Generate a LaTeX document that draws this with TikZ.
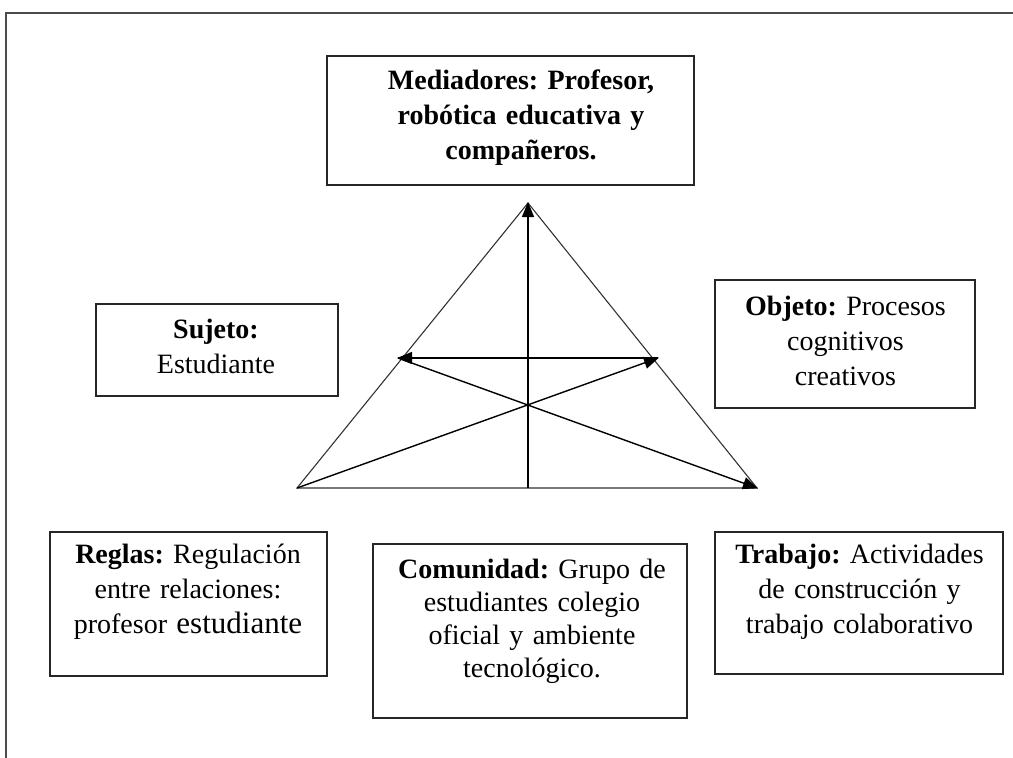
\documentclass[tikz,border=0pt]{standalone}
\usepackage{fontspec}
\setmainfont{Liberation Serif}
\usetikzlibrary{arrows.meta}
\frenchspacing
\tikzset{
  box/.style={draw=black!85, line width=1.3pt, inner sep=0pt, fill=none},
  txt/.style={anchor=base, inner sep=0pt, align=center, text width=300pt, font=\fontsize{28}{35}\selectfont\frenchspacing},
  side/.style={draw=black!80, line width=1.1pt},
  arr/.style={draw=black, line width=1.4pt, -{Triangle[length=15pt,width=12pt]}, shorten >=-1pt},
  frame/.style={draw=black!70, line width=1.6pt}
}
\begin{document}
\begin{tikzpicture}[x=1pt,y=-1pt]
\useasboundingbox (0,0) rectangle (1013,758);
% outer frame
\coordinate (f1) at (1013,13);
\coordinate (f2) at (6,13);
\coordinate (f3) at (6,758);
\draw[frame] (f1) -- (f2) -- (f3);
% boxes
\node[box, minimum width=367pt, minimum height=129pt] (med) at (510.5,120.5) {};
\node[box, minimum width=242pt, minimum height=92pt] (suj) at (217,350) {};
\node[box, minimum width=260pt, minimum height=128pt] (obj) at (845,344) {};
\node[box, minimum width=277pt, minimum height=144pt] (reg) at (188.5,604) {};
\node[box, minimum width=314pt, minimum height=174pt] (com) at (530,631) {};
\node[box, minimum width=288pt, minimum height=142pt] (tra) at (859,603) {};
% texts
\node[txt] (medt) at (521,89) {\textbf{Mediadores: Profesor,}\\\textbf{robótica educativa y}\\\textbf{compañeros.}};
\node[txt] (sujt) at (216,338) {\textbf{Sujeto:}\\Estudiante};
\node[txt] (objt) at (845.5,315) {\textbf{Objeto:} Procesos\\cognitivos\\creativos};
\node[txt] (regt) at (188,563) {\textbf{Reglas:} Regulación\\entre relaciones:\\profesor {\fontsize{31}{35}\selectfont estudiante}};
\node[txt, font=\fontsize{28}{33}\selectfont\frenchspacing] (comt) at (532,578) {\textbf{Comunidad:} Grupo de\\estudiantes colegio\\oficial y ambiente\\tecnológico.};
\node[txt] (trat) at (859.5,563) {\textbf{Trabajo:} Actividades\\de construcción y\\trabajo colaborativo};
% triangle
\coordinate (A) at (528,203);
\coordinate (B) at (297,488);
\coordinate (C) at (757,488);
\coordinate (L) at (398,358);
\coordinate (R) at (658,358);
\coordinate (M) at (528,488);
\draw[side] (A) -- (B) -- (C) -- cycle;
\draw[arr] (M) -- (A);
\draw[arr] (R) -- (L);
\draw[arr] (B) -- (R);
\draw[arr] (L) -- (C);
\end{tikzpicture}
\end{document}
